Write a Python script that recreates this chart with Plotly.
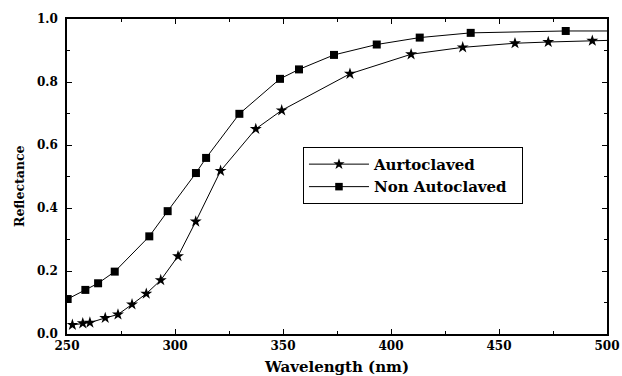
import plotly.graph_objects as go

# Non Autoclaved (squares)
non_x = [250.3, 258.5, 264.4, 272.1, 288.1, 296.6, 309.7, 314.4, 329.8, 348.6, 357.4, 373.6, 393.4, 413.3, 436.9, 480.9, 500.0]
non_y = [0.111, 0.140, 0.161, 0.198, 0.310, 0.390, 0.511, 0.559, 0.699, 0.810, 0.840, 0.886, 0.919, 0.941, 0.956, 0.962, 0.962]

# Aurtoclaved (stars)
aut_x = [252.5, 257.3, 260.6, 267.7, 273.6, 280.1, 286.7, 293.4, 301.4, 309.6, 321.1, 337.4, 349.4, 381.0, 409.3, 433.2, 457.4, 472.8, 493.2, 500.0]
aut_y = [0.029, 0.034, 0.036, 0.051, 0.062, 0.094, 0.128, 0.171, 0.247, 0.357, 0.518, 0.651, 0.710, 0.826, 0.888, 0.910, 0.923, 0.927, 0.931, 0.932]

x_ticks = [250, 300, 350, 400, 450, 500]
y_ticks = [0.0, 0.2, 0.4, 0.6, 0.8, 1.0]

FONT = "DejaVu Serif"

fig = go.Figure()
fig.add_trace(go.Scatter(
    x=aut_x, y=aut_y, mode="lines+markers", name="<b>Aurtoclaved</b>",
    line=dict(color="black", width=1),
    marker=dict(symbol="star", color="black", opacity=1,
                line=dict(width=0),
                size=[9] * (len(aut_x) - 1) + [0]),
))
fig.add_trace(go.Scatter(
    x=non_x, y=non_y, mode="lines+markers", name="<b>Non Autoclaved</b>&nbsp;&nbsp;",
    line=dict(color="black", width=1),
    marker=dict(symbol="square", color="black", opacity=1,
                line=dict(width=0),
                size=[8] * (len(non_x) - 1) + [0]),
))

axis_common = dict(
    showline=True, linecolor="black", linewidth=1.5, mirror="ticks",
    ticks="inside", ticklen=5, tickwidth=1, tickcolor="black",
    showgrid=False, zeroline=False, automargin=False,
    tickfont=dict(family=FONT, size=12, color="black"),
)

fig.update_xaxes(
    range=[250, 500], tickvals=x_ticks, ticktext=[f"<b>{v}</b>" for v in x_ticks],
    minor=dict(dtick=25, tick0=250, ticks="inside", ticklen=3, tickcolor="black"),
    title=dict(text="<b>Wavelength (nm)</b>", font=dict(family=FONT, size=15, color="black"), standoff=13),
    **axis_common,
)
fig.update_yaxes(
    range=[0, 1.0], tickvals=y_ticks, ticktext=[f"<b>{v:.1f}</b>" for v in y_ticks],
    minor=dict(dtick=0.1, tick0=0, ticks="inside", ticklen=3, tickcolor="black"),
    ticklabelstandoff=5,
    **axis_common,
)

fig.add_annotation(
    text="<b>Reflectance</b>", textangle=-90,
    xref="paper", yref="paper", x=-0.087, y=0.47,
    xanchor="center", yanchor="middle", showarrow=False,
    font=dict(family=FONT, size=12.5, color="black"),
)

fig.update_layout(
    width=622, height=376,
    margin=dict(l=67, r=15, t=19, b=42),
    paper_bgcolor="white", plot_bgcolor="white",
    showlegend=True,
    legend=dict(
        x=0.437, y=0.594, xanchor="left", yanchor="top",
        bordercolor="black", borderwidth=1, bgcolor="white",
        font=dict(family=FONT, size=15, color="black"),
        itemwidth=60, tracegroupgap=0,
    ),
)

fig.write_html("out.html")
